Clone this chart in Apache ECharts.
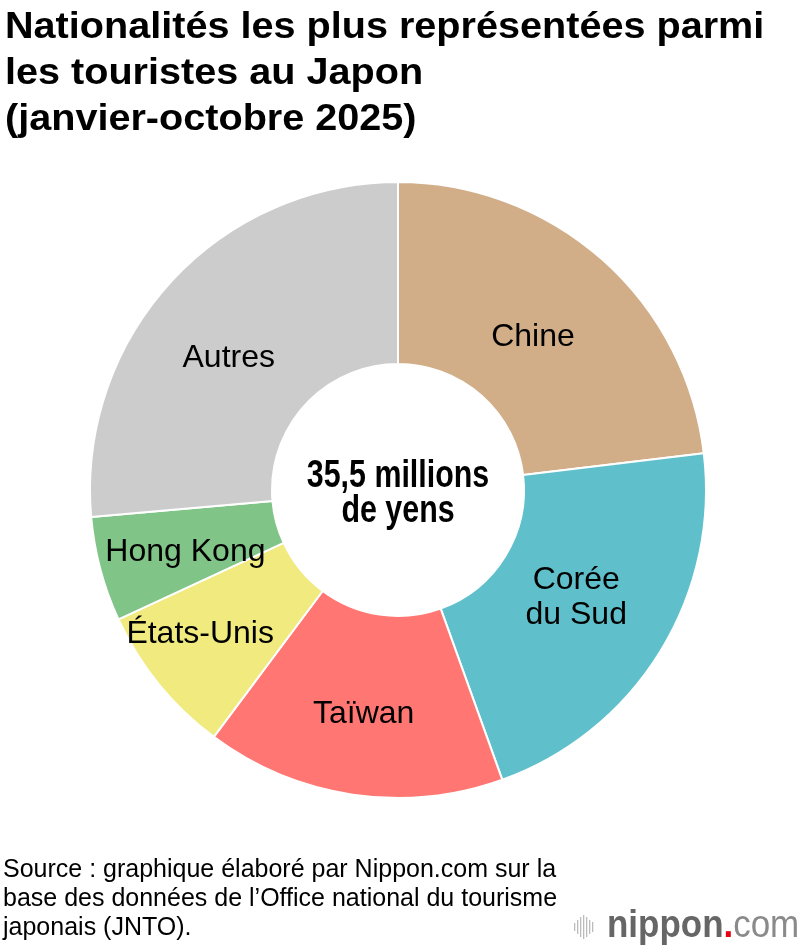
<!DOCTYPE html>
<html>
<head>
<meta charset="utf-8">
<script src="https://cdn.jsdelivr.net/npm/echarts@6/dist/echarts.min.js"></script>
<style>
  html, body { margin: 0; padding: 0; background: #fff; }
  #chart { width: 800px; height: 948px; }
</style>
</head>
<body>
<div id="chart"></div>
<script>
// parts (%) read from the donut, clockwise from 12 o'clock
const countries = ["Chine", "Corée\ndu Sud", "Taïwan", "États-Unis", "Hong Kong", "Autres"];
const shares = [23.1, 21.4, 15.7, 7.9, 5.5, 26.4];
const colors = ["#D2AE88", "#5FC0CB", "#FF7672", "#F0EA7F", "#80C487", "#CCCCCC"];

const titleText = "Nationalités les plus représentées parmi\nles touristes au Japon\n(janvier-octobre 2025)";
const centerText = "35,5 millions\nde yens";
const sourceText = "Source : graphique élaboré par Nippon.com sur la\nbase des données de l’Office national du tourisme\njaponais (JNTO).";

// small nudges of the inside labels (px)
const labelShift = [[-11, 12], [-9, -8], [-2, 7], [-27, 6], [0, 5], [-7, 17]];

const FONT = "'Liberation Sans', Arial, sans-serif";

// logo bars (decoration)
const barH = [8, 14, 20, 24, 20, 14, 10];
const logoBars = barH.map((h, i) => ({
  type: "rect",
  shape: { x: 574 + i * 3, y: 927 - h / 2, width: 1.3, height: h },
  style: { fill: "#bbb" },
}));

const chart = echarts.init(document.getElementById("chart"));

const option = {
  backgroundColor: "#fff",
  animation: false,
  series: [
    {
      type: "pie",
      center: [398, 490],
      radius: [126, 308],
      startAngle: 90,
      clockwise: true,
      silent: true,
      itemStyle: {
        borderColor: "#fff",
        borderWidth: 2,
      },
      label: {
        show: true,
        position: "inside",
        fontFamily: FONT,
        fontSize: 32,
        lineHeight: 35,
        color: "#000",
      },
      labelLine: { show: false },
      labelLayout: (params) => ({
        dx: labelShift[params.dataIndex][0],
        dy: labelShift[params.dataIndex][1],
      }),
      data: countries.map((name, i) => ({
        name: name,
        value: shares[i],
        itemStyle: { color: colors[i] },
      })),
    },
  ],
  graphic: [
    {
      type: "text",
      x: 5,
      y: 5,
      scaleX: 1.1,
      style: {
        text: titleText,
        fill: "#000",
        font: "bold 36px " + FONT,
        lineHeight: 46,
        verticalAlign: "top",
      },
    },
    {
      type: "text",
      x: 398,
      y: 459,
      scaleX: 0.8,
      style: {
        text: centerText,
        fill: "#000",
        font: "bold 38px " + FONT,
        lineHeight: 35,
        align: "center",
        verticalAlign: "top",
      },
    },
    {
      type: "text",
      x: 3,
      y: 856,
      style: {
        text: sourceText,
        fill: "#000",
        font: "25px " + FONT,
        lineHeight: 29,
        verticalAlign: "top",
      },
    },
    ...logoBars,
    {
      type: "text",
      x: 607,
      y: 927,
      scaleX: 0.92,
      style: {
        text: "{n|nippon}{d|.}{c|com}",
        verticalAlign: "middle",
        rich: {
          n: { fontSize: 38, fill: "#666", fontWeight: "bold", fontFamily: FONT },
          d: { fontSize: 38, fill: "#E60012", fontWeight: "bold", fontFamily: FONT },
          c: { fontSize: 38, fill: "#8a8a8a", fontFamily: FONT },
        },
      },
    },
  ],
};

chart.setOption(option);
</script>
</body>
</html>
